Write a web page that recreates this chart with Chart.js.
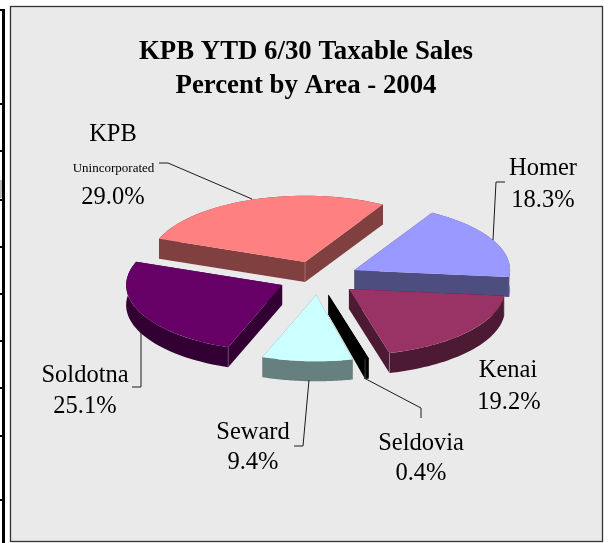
<!DOCTYPE html>
<html>
<head>
<meta charset="utf-8">
<style>html,body{margin:0;padding:0;background:#fff}canvas{display:block}</style>
<script src="https://cdn.jsdelivr.net/npm/chart.js@4"></script>
</head>
<body>
<canvas id="c" width="610" height="543"></canvas>
<script>
const areas = ['KPB Unincorporated','Homer','Kenai','Seldovia','Seward','Soldotna'];
const sliceShares = [27.6,18.3,19.2,0.4,9.4,25.1];
const topColors = ['#FF8080','#9999FF','#993366','#000000','#CCFFFF','#660066'];
const sideColors = ['#804040','#4D4D80','#4D1A33','#000000','#668080','#330033'];
const titleLines = ['KPB YTD 6/30 Taxable Sales','Percent by Area - 2004'];
const labelTexts = ['KPB','29.0%','Homer','18.3%','Kenai','19.2%','Seldovia','0.4%','Seward','9.4%','Soldotna','25.1%'];
const labelX = [113,113,543,543,508,509,421,421,253,253,85,85];
const labelY = [141,204,175,207,377,409,450,480,439,469,382,413];
const subLabel = 'Unincorporated';
const leaders = [
  [[159,163],[168,163],[252,199]],
  [[505,182],[496,182],[493,240]],
  [[364,378],[421,408],[421,418]],
  [[309,380],[303,446],[294,446]],
  [[141,331],[141,387],[132,387]]
];
const stripTicks = [104,151,200,247,294,341,388,436,500];

const TILT = 0.425, DEPTH = 20, EXPLODE = 40, RADIUS = 156;

const pie3d = {
  id:'pie3d',
  beforeDraw(chart){
    const ctx = chart.ctx;
    ctx.save();
    ctx.fillStyle='#fff'; ctx.fillRect(0,0,610,543);
    ctx.fillStyle='#000';
    ctx.fillRect(2,9,3,534);
    ctx.fillRect(0,9,5,2);
    stripTicks.forEach(y=>ctx.fillRect(0,y-1,2,2));
    ctx.fillStyle='#bbb'; ctx.fillRect(0,180,2,18);
    ctx.fillStyle='#EAEAEA'; ctx.fillRect(10,6,592,535);
    ctx.strokeStyle='#333'; ctx.lineWidth=1.3;
    ctx.strokeRect(10.5,6.5,592,535);
    ctx.restore();
  },
  afterLayout(chart){
    chart.titleBlock.left = 0; chart.titleBlock.right = 612;
  },
  beforeDatasetsDraw(chart){
    const ctx = chart.ctx;
    const arcs = chart.getDatasetMeta(0).data;
    const geo = arcs.map(a=>{
      const m=(a.startAngle+a.endAngle)/2;
      const ax=a.x+EXPLODE*Math.cos(m), ay=a.y+TILT*EXPLODE*Math.sin(m);
      const rim=[]; const n=40;
      for(let i=0;i<=n;i++){
        const t=a.startAngle+(a.endAngle-a.startAngle)*i/n;
        rim.push([ax+a.outerRadius*Math.cos(t), ay+TILT*a.outerRadius*Math.sin(t)]);
      }
      return {a,m,ax,ay,rim};
    });
    // extruded sides
    geo.forEach((g,i)=>{
      ctx.save();
      ctx.fillStyle=sideColors[i];
      const quad=(p,q)=>{
        ctx.beginPath();ctx.moveTo(p[0],p[1]);ctx.lineTo(q[0],q[1]);
        ctx.lineTo(q[0],q[1]+DEPTH);ctx.lineTo(p[0],p[1]+DEPTH);ctx.closePath();ctx.fill();
      };
      quad([g.ax,g.ay],g.rim[0]);
      quad([g.ax,g.ay],g.rim[g.rim.length-1]);
      ctx.beginPath();
      g.rim.forEach((p,j)=>j?ctx.lineTo(p[0],p[1]):ctx.moveTo(p[0],p[1]));
      for(let j=g.rim.length-1;j>=0;j--)ctx.lineTo(g.rim[j][0],g.rim[j][1]+DEPTH);
      ctx.closePath();ctx.fill();
      // light corner lines
      ctx.strokeStyle='rgba(255,255,255,0.3)';ctx.lineWidth=0.8;
      const v=p=>{ctx.beginPath();ctx.moveTo(p[0],p[1]);ctx.lineTo(p[0],p[1]+DEPTH);ctx.stroke();};
      if(Math.sin(g.a.startAngle)>0)v(g.rim[0]);
      if(Math.sin(g.a.endAngle)>0)v(g.rim[g.rim.length-1]);
      if(Math.sin(g.m)<0)v([g.ax,g.ay]);
      ctx.restore();
    });
    // top faces: the library's own arcs under a tilt transform
    geo.forEach(g=>{
      ctx.save();
      ctx.translate(g.ax,g.ay);
      ctx.scale(1,TILT);
      ctx.translate(-g.a.x,-g.a.y);
      g.a.draw(ctx);
      ctx.restore();
    });
    return false;
  },
  afterDraw(chart){
    const ctx = chart.ctx;
    ctx.save();
    ctx.strokeStyle='#1a1a1a';ctx.lineWidth=1;
    leaders.forEach(l=>{
      ctx.beginPath();
      l.forEach((p,j)=>j?ctx.lineTo(p[0],p[1]):ctx.moveTo(p[0],p[1]));
      ctx.stroke();
    });
    ctx.fillStyle='#000';ctx.textAlign='center';ctx.textBaseline='alphabetic';
    ctx.font='24.5px "Liberation Serif"';
    labelTexts.forEach((t,i)=>ctx.fillText(t,labelX[i],labelY[i]));
    ctx.font='13px "Liberation Serif"';
    ctx.fillText(subLabel,113.5,172);
    ctx.restore();
  }
};

new Chart(document.getElementById('c'),{
  type:'pie',
  data:{labels:areas,datasets:[{data:sliceShares,backgroundColor:topColors,borderWidth:0,clip:false}]},
  options:{
    responsive:false,animation:false,
    rotation:290.6,
    radius:RADIUS,
    layout:{padding:{left:27,right:0,top:0,bottom:90}},
    plugins:{
      legend:{display:false},tooltip:{enabled:false},
      title:{display:true,text:titleLines,color:'#000',
        font:{family:'"Liberation Serif"',size:26.8,weight:'bold',lineHeight:1.27},
        padding:{top:35,bottom:0}}
    }
  },
  plugins:[pie3d]
});
</script>
</body>
</html>
